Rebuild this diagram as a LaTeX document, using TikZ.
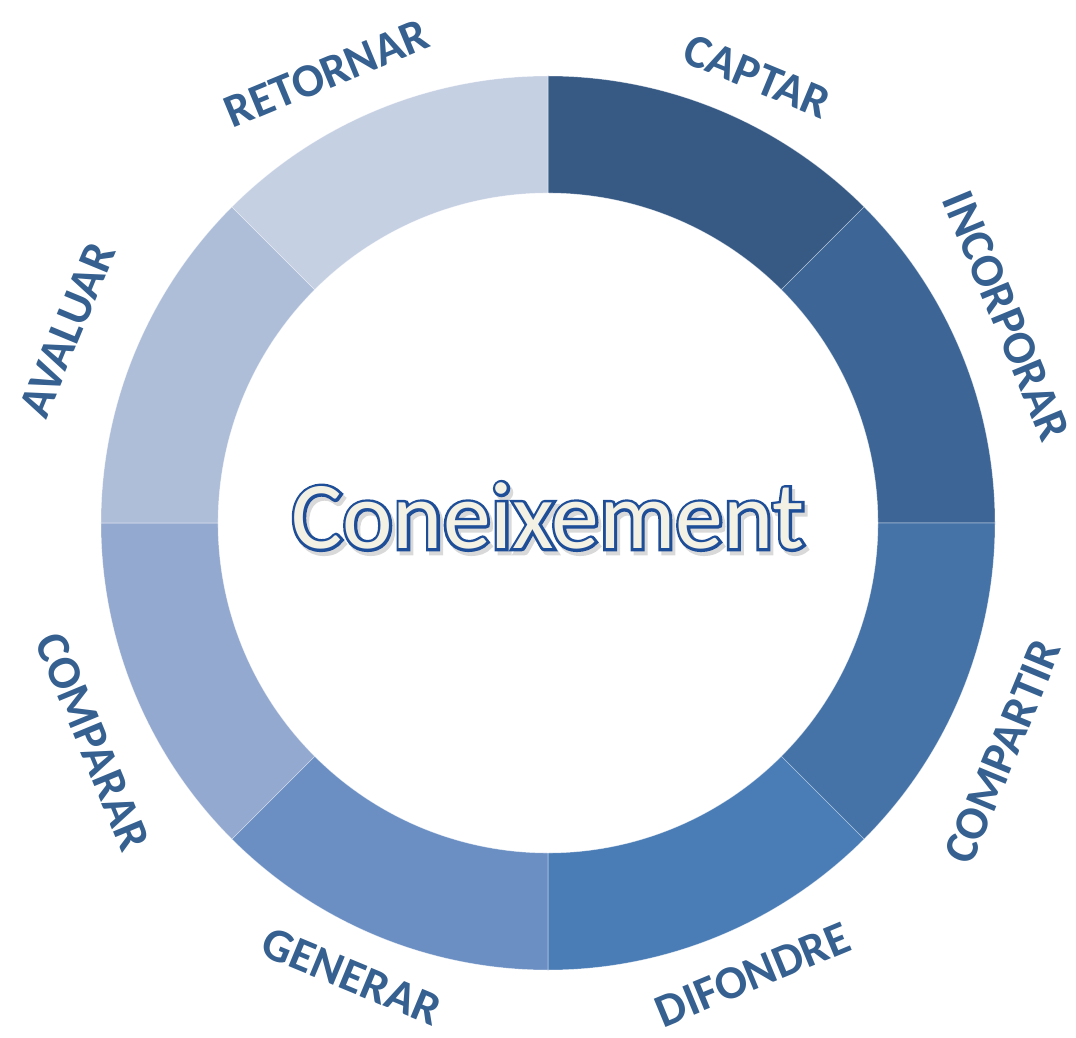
\documentclass[tikz,border=0pt]{standalone}
\usepackage{fontspec}
\setmainfont{Carlito}
\newfontface\vorafam[FakeBold=6]{Carlito}
\definecolor{sa}{HTML}{375A85}
\definecolor{sb}{HTML}{3D6696}
\definecolor{sc}{HTML}{4573A8}
\definecolor{sd}{HTML}{4A7CB6}
\definecolor{se}{HTML}{6B8FC3}
\definecolor{sf}{HTML}{94A9CF}
\definecolor{sg}{HTML}{AEBED9}
\definecolor{sh}{HTML}{C6D0E3}
\definecolor{etiq}{HTML}{35608F}
\definecolor{vora}{HTML}{1E4E98}
\definecolor{crema}{HTML}{F3F0E4}
\tikzset{
  seg/.style={draw=white, draw opacity=0.45, line width=0.4pt},
  etiqueta/.style={text=etiq, font=\bfseries\fontsize{33.5}{33.5}\selectfont, inner sep=0pt},
  titolvora/.style={font=\vorafam\fontsize{68}{68}\selectfont, inner sep=0pt},
  titolfont/.style={font=\fontsize{68}{68}\selectfont, inner sep=0pt}
}
\begin{document}
\begin{tikzpicture}[x=0.025cm, y=0.025cm]
\useasboundingbox (-548,-514) rectangle (528,523);
\foreach \a/\col in {90/sa, 45/sb, 0/sc, -45/sd, -90/se, -135/sf, 180/sg, 135/sh}
  \draw[seg, fill=\col] (\a:330) -- (\a:447) arc[start angle=\a, delta angle=-45, radius=447]
    -- ({\a-45}:330) arc[start angle={\a-45}, delta angle=45, radius=330] -- cycle;
\node[etiqueta, rotate=-22.5] (captar) at (64.9:493) {CAPTAR};
\node[etiqueta, rotate=-67.5] (incorporar) at (24.3:503) {INCORPORAR};
\node[etiqueta, rotate=67.5] (compartir) at (-26.7:509) {COMPARTIR};
\node[etiqueta, rotate=22.5] (difondre) at (-65.6:496) {DIFONDRE};
\node[etiqueta, rotate=-22.5] (generar) at (-113.4:494) {GENERAR};
\node[etiqueta, rotate=-67.5] (comparar) at (-154.3:505) {COMPARAR};
\node[etiqueta, rotate=67.5] (avaluar) at (158.1:518) {AVALUAR};
\node[etiqueta, rotate=22.5] (retornar) at (116.2:501) {RETORNAR};
\node[titolvora, text=black!15] (ombra) at (3,3) {Coneixement};
\node[titolvora, text=vora] (contorn) at (0,7) {Coneixement};
\node[titolfont, text=crema] (titol) at (0,7) {Coneixement};
\end{tikzpicture}
\end{document}
